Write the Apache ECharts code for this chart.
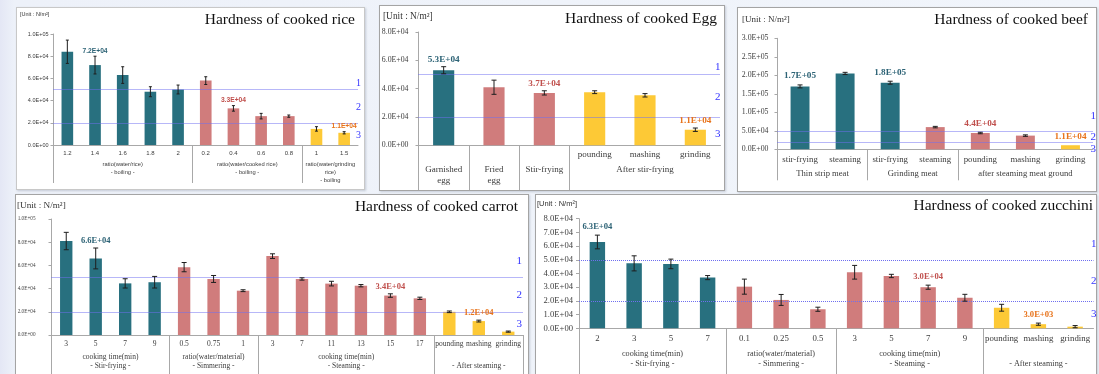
<!DOCTYPE html>
<html>
<head>
<meta charset="utf-8">
<script src="https://cdn.jsdelivr.net/npm/echarts@6/dist/echarts.min.js"></script>
<style>
  html, body { margin: 0; padding: 0; }
  body {
    width: 1099px; height: 374px; overflow: hidden; position: relative;
    background: linear-gradient(90deg, #e4e7f5 0px, #edf1f9 14px, #f1f5fb 100%);
  }
  .frame { position: absolute; background: #fff; border: 1px solid #a4a4a4; box-sizing: border-box;
           box-shadow: 1px 1px 2px rgba(120,130,150,0.35); }
  #chart { position: absolute; left: 0; top: 0; width: 1099px; height: 374px; }
</style>
</head>
<body>
<div class="frame" style="left:16px;top:7px;width:349px;height:183px;border-color:#c8c8c8"></div>
<div class="frame" style="left:379px;top:5px;width:346px;height:186px"></div>
<div class="frame" style="left:737px;top:7px;width:360px;height:185px"></div>
<div class="frame" style="left:15px;top:194px;width:514px;height:190px"></div>
<div class="frame" style="left:535px;top:194px;width:562px;height:190px"></div>
<div id="chart"></div>
<script>
// ---------- hardness measurements (N/m²) ----------
const UNIT = '[Unit : N/m²]';
const refLines = [50000, 20000];          // grade boundaries 1|2 and 2|3
const refNames = ['1', '2', '3'];

// rice
const riceTitle = 'Hardness of cooked rice';
const riceCats = ['1.2', '1.4', '1.6', '1.8', '2', '0.2', '0.4', '0.6', '0.8', '1', '1.5'];
const riceVals = [84000, 72000, 63000, 48000, 50000, 58000, 33000, 26000, 26000, 14500, 11000];
const riceErrs = [10500, 8000, 7500, 4500, 4000, 3500, 2500, 2500, 1000, 2000, 1000];
const riceKinds = ['t', 't', 't', 't', 't', 'p', 'p', 'p', 'p', 'y', 'y'];
const riceGroups = ['ratio(water/rice)\n- boiling -', 'ratio(water/cooked rice)\n- boiling -', 'ratio(water/grinding\nrice)\n- boiling'];
const riceGroupSizes = [5, 4, 2];
const riceLabeled = [1, 6, 10];
const riceYTicks = [0, 20000, 40000, 60000, 80000, 100000];

// egg
const eggTitle = 'Hardness of cooked Egg';
const eggCats = ['', '', '', 'pounding', 'mashing', 'grinding'];
const eggVals = [53000, 41000, 37000, 37500, 35300, 11000];
const eggErrs = [2500, 5000, 1500, 1000, 1200, 1200];
const eggKinds = ['t', 'p', 'p', 'y', 'y', 'y'];
const eggGroups = ['Garnished\negg', 'Fried\negg', 'Stir-frying', 'After stir-frying'];
const eggGroupSizes = [1, 1, 1, 3];
const eggLabeled = [0, 2, 5];
const eggYTicks = [0, 20000, 40000, 60000, 80000];

// beef
const beefTitle = 'Hardness of cooked beef';
const beefCats = ['stir-frying', 'steaming', 'stir-frying', 'steaming', 'pounding', 'mashing', 'grinding'];
const beefVals = [170000, 205000, 180000, 60000, 44000, 37000, 11000];
const beefErrs = [4000, 3000, 4000, 2000, 2000, 2000, 0];
const beefKinds = ['t', 't', 't', 'p', 'p', 'p', 'y'];
const beefGroups = ['Thin strip meat', 'Grinding meat', 'after steaming meat ground'];
const beefGroupSizes = [2, 2, 3];
const beefLabeled = [0, 2, 4, 6];
const beefYTicks = [0, 50000, 100000, 150000, 200000, 250000, 300000];

// carrot
const carrotTitle = 'Hardness of cooked carrot';
const carrotCats = ['3', '5', '7', '9', '0.5', '0.75', '1', '3', '7', '11', '13', '15', '17', 'pounding', 'mashing', 'grinding'];
const carrotVals = [81000, 66000, 44500, 45500, 58500, 48300, 38200, 68000, 48300, 44300, 42500, 34000, 31600, 20000, 12000, 2900];
const carrotErrs = [7500, 9000, 4000, 5000, 4000, 3000, 800, 2000, 1000, 2000, 1000, 1500, 1000, 700, 800, 500];
const carrotKinds = ['t', 't', 't', 't', 'p', 'p', 'p', 'p', 'p', 'p', 'p', 'p', 'p', 'y', 'y', 'y'];
const carrotGroups = ['cooking time(min)\n- Stir-frying -', 'ratio(water/material)\n- Simmering -', 'cooking time(min)\n- Steaming -', '\n- After steaming -'];
const carrotGroupSizes = [4, 3, 6, 3];
const carrotLabeled = [1, 11, 14];
const carrotYTicks = [0, 20000, 40000, 60000, 80000, 100000];

// zucchini
const zucchiniTitle = 'Hardness of cooked zucchini';
const zucchiniCats = ['2', '3', '5', '7', '0.1', '0.25', '0.5', '3', '5', '7', '9', 'pounding', 'mashing', 'grinding'];
const zucchiniVals = [63000, 47400, 47000, 37000, 30400, 20700, 13900, 40900, 38200, 30000, 22300, 15000, 3000, 1200];
const zucchiniErrs = [5000, 5500, 3500, 1500, 5500, 4000, 1500, 5000, 1200, 1500, 2500, 2500, 800, 800];
const zucchiniKinds = ['t', 't', 't', 't', 'p', 'p', 'p', 'p', 'p', 'p', 'p', 'y', 'y', 'y'];
const zucchiniGroups = ['cooking time(min)\n- Stir-frying -', 'ratio(water/material)\n- Simmering -', 'cooking time(min)\n- Steaming -', '\n- After steaming -'];
const zucchiniGroupSizes = [4, 3, 4, 3];
const zucchiniLabeled = [0, 9, 12];
const zucchiniYTicks = [0, 10000, 20000, 30000, 40000, 50000, 60000, 70000, 80000];

// ---------- styling ----------
const SERIF = '"Liberation Serif", "Times New Roman", serif';
const SANS = '"Liberation Sans", Arial, sans-serif';
const BAR_COLORS = { t: '#28707f', p: '#d07c7c', y: '#fdc936' };
const VALUE_COLORS = { t: '#2c6275', p: '#c0504d', y: '#e8731a' };
const AXIS_COLOR = '#a8a8a8';
const TEXT_COLOR = '#3c3c3c';

// scientific notation like 7.2E+04
function sci(v) {
  if (v === 0) return '0.0E+00';
  let e = Math.floor(Math.log10(Math.abs(v)));
  let m = v / Math.pow(10, e);
  if (Math.round(m * 10) / 10 >= 10) { m /= 10; e += 1; }
  return m.toFixed(1) + 'E' + (e < 0 ? '-' : '+') + String(Math.abs(e)).padStart(2, '0');
}

const panels = [
  { title: riceTitle, cats: riceCats, vals: riceVals, errs: riceErrs, kinds: riceKinds,
    groups: riceGroups, sizes: riceGroupSizes, labeled: riceLabeled, yTicks: riceYTicks,
    L: { grid: [53.5, 34, 304.5, 111], yFont: SANS, ySize: 5.5, yMargin: 5,
         catFont: SANS, catSize: 6, catLH: 7, catMargin: 4.5,
         grpFont: SANS, grpSize: 5.8, grpLH: 7.7, grpMargin: 16, sepLen: 38, closeRight: false,
         titlePos: [744, 11], unitPos: [20, 11], unitFont: SANS, unitSize: 5.5,
         valFont: SANS, valSize: 6.7, valGap: 2, cap: 3, refSize: 10, dx: -3, d1: 1, d3: 8 } },
  { title: eggTitle, cats: eggCats, vals: eggVals, errs: eggErrs, kinds: eggKinds,
    groups: eggGroups, sizes: eggGroupSizes, labeled: eggLabeled, yTicks: eggYTicks,
    L: { grid: [418.5, 32, 302, 113.3], yFont: SERIF, ySize: 7.8, yMargin: 10,
         catFont: SERIF, catSize: 9, catLH: 10, catMargin: 4.7,
         grpFont: SERIF, grpSize: 9, grpLH: 11, grpMargin: 19, sepLen: 45, closeRight: false,
         titlePos: [382, 10], unitPos: [383, 12], unitFont: SERIF, unitSize: 9.4,
         valFont: SERIF, valSize: 9.2, valGap: 3, cap: 5, refSize: 11, dx: 0, d1: 2, d3: 12 } },
  { title: beefTitle, cats: beefCats, vals: beefVals, errs: beefErrs, kinds: beefKinds,
    groups: beefGroups, sizes: beefGroupSizes, labeled: beefLabeled, yTicks: beefYTicks,
    L: { grid: [777.5, 38.3, 315.5, 111], yFont: SERIF, ySize: 7.8, yMargin: 9,
         catFont: SERIF, catSize: 8.8, catLH: 10, catMargin: 5.7,
         grpFont: SERIF, grpSize: 8.6, grpLH: 10, grpMargin: 19.7, sepLen: 31, closeRight: false,
         titlePos: [11, 11], unitPos: [742, 15], unitFont: SERIF, unitSize: 9,
         valFont: SERIF, valSize: 9.2, valGap: 4.5, cap: 5, refSize: 11, dx: -3, d1: 9, d3: 2 } },
  { title: carrotTitle, cats: carrotCats, vals: carrotVals, errs: carrotErrs, kinds: carrotKinds,
    groups: carrotGroups, sizes: carrotGroupSizes, labeled: carrotLabeled, yTicks: carrotYTicks,
    L: { grid: [51.5, 219, 471.5, 116], yFont: SERIF, ySize: 5.2, yMargin: 16,
         catFont: SERIF, catSize: 7.5, catLH: 9, catMargin: 4.5,
         grpFont: SERIF, grpSize: 7.5, grpLH: 9, grpMargin: 17.2, sepLen: 42, closeRight: true,
         titlePos: [581, 198], unitPos: [17, 201], unitFont: SERIF, unitSize: 9.2,
         valFont: SERIF, valSize: 8.5, valGap: 3, cap: 5, refSize: 11, dx: 1, d1: 10, d3: 7 } },
  { title: zucchiniTitle, cats: zucchiniCats, vals: zucchiniVals, errs: zucchiniErrs, kinds: zucchiniKinds,
    groups: zucchiniGroups, sizes: zucchiniGroupSizes, labeled: zucchiniLabeled, yTicks: zucchiniYTicks,
    L: { grid: [579, 218.7, 514.5, 109.6], yFont: SERIF, ySize: 8.6, yMargin: 6,
         catFont: SERIF, catSize: 8.8, catLH: 10, catMargin: 5,
         grpFont: SERIF, grpSize: 8.2, grpLH: 9.7, grpMargin: 21, sepLen: 46, closeRight: false,
         titlePos: [6, 197], unitPos: [537, 200], unitFont: SANS, unitSize: 7.5,
         valFont: SERIF, valSize: 8.6, valGap: 3.5, cap: 5, refSize: 11, dx: -3, d1: 10, d3: 8 } }
];

function addPanel(opt, P) {
  const L = P.L;
  const g = opt.grid.length;
  const n = P.cats.length;
  opt.grid.push({ left: L.grid[0], top: L.grid[1], width: L.grid[2], height: L.grid[3] });

  // group boundaries (separator ticks) and group centres (group labels)
  const bounds = [-0.5], centers = [];
  let acc = -0.5;
  P.sizes.forEach(s => { centers.push(acc + s / 2); acc += s; bounds.push(acc); });
  if (!L.closeRight) bounds.pop();

  const xi = opt.xAxis.length;
  opt.xAxis.push({
    type: 'category', gridIndex: g, data: P.cats, boundaryGap: true,
    axisLine: { show: true, onZero: false, lineStyle: { color: AXIS_COLOR, width: 1 } },
    axisTick: { show: false },
    axisLabel: { interval: 0, margin: L.catMargin, fontFamily: L.catFont, fontSize: L.catSize,
                 lineHeight: L.catLH, color: TEXT_COLOR }
  });
  opt.xAxis.push({
    type: 'value', gridIndex: g, min: -0.5, max: n - 0.5, position: 'bottom',
    axisLine: { show: false, onZero: false }, splitLine: { show: false },
    axisTick: { show: true, customValues: bounds, length: L.sepLen, lineStyle: { color: AXIS_COLOR } },
    axisLabel: {
      customValues: centers, margin: L.grpMargin, fontFamily: L.grpFont, fontSize: L.grpSize,
      lineHeight: L.grpLH, color: TEXT_COLOR, align: 'center',
      formatter: v => { const k = centers.findIndex(c => Math.abs(c - v) < 1e-6); return k < 0 ? '' : P.groups[k]; }
    }
  });

  const yi = opt.yAxis.length;
  const yt = P.yTicks;
  opt.yAxis.push({
    type: 'value', gridIndex: g, min: yt[0], max: yt[yt.length - 1], interval: yt[1] - yt[0],
    axisLine: { show: true, onZero: false, lineStyle: { color: AXIS_COLOR } },
    axisTick: { show: true, length: 3, lineStyle: { color: AXIS_COLOR } },
    splitLine: { show: false },
    axisLabel: { margin: L.yMargin, fontFamily: L.yFont, fontSize: L.ySize, color: TEXT_COLOR,
                 formatter: v => sci(v) }
  });

  const refLabel = { color: '#3434ff', fontFamily: SERIF, fontSize: L.refSize };
  opt.series.push({
    type: 'bar', xAxisIndex: xi, yAxisIndex: yi, barWidth: '42%',
    data: P.vals.map((v, i) => ({ value: v, itemStyle: { color: BAR_COLORS[P.kinds[i]] } })),
    markLine: {
      silent: true, symbol: 'none', animation: false,
      lineStyle: { color: '#6f6ff0', type: 'dotted', width: 1 },
      data: [
        { yAxis: refLines[0],
          label: Object.assign({ formatter: refNames[0], position: 'insideEndTop', distance: [L.dx, L.d1] }, refLabel) },
        { yAxis: (refLines[0] + refLines[1]) / 2, lineStyle: { color: 'rgba(0,0,0,0)' },
          label: Object.assign({ formatter: refNames[1], position: 'insideEndTop', distance: [L.dx, -L.refSize / 2 - 1] }, refLabel) },
        { yAxis: refLines[1],
          label: Object.assign({ formatter: refNames[2], position: 'insideEndBottom', distance: [L.dx, L.d3] }, refLabel) }
      ]
    }
  });

  // error bars plus the value captions placed above them
  opt.series.push({
    type: 'custom', xAxisIndex: xi, yAxisIndex: yi, z: 5,
    data: P.vals.map((v, i) => [i, v]),
    encode: { x: 0, y: 1 },
    renderItem: (params, api) => {
      const i = params.dataIndex;
      const v = P.vals[i], e = P.errs[i];
      const top = api.coord([i, v + e]);
      const bot = api.coord([i, v - e]);
      const hw = L.cap / 2;
      const kids = [];
      if (e > 0) {
        const st = { stroke: '#1e1e1e', lineWidth: 1 };
        kids.push({ type: 'line', shape: { x1: top[0], y1: top[1], x2: bot[0], y2: bot[1] }, style: st });
        kids.push({ type: 'line', shape: { x1: top[0] - hw, y1: top[1], x2: top[0] + hw, y2: top[1] }, style: st });
        kids.push({ type: 'line', shape: { x1: bot[0] - hw, y1: bot[1], x2: bot[0] + hw, y2: bot[1] }, style: st });
      }
      if (P.labeled.indexOf(i) >= 0) {
        kids.push({ type: 'text', style: {
          x: top[0], y: top[1] - L.valGap, text: sci(v),
          fill: VALUE_COLORS[P.kinds[i]],
          fontFamily: L.valFont, fontSize: L.valSize, fontWeight: 'bold',
          align: 'center', verticalAlign: 'bottom' } });
      }
      return { type: 'group', children: kids };
    }
  });

  opt.title.push({ text: P.title, right: L.titlePos[0], top: L.titlePos[1], padding: 0,
    textStyle: { fontFamily: SERIF, fontSize: 15.5, fontWeight: 'normal', color: '#111', lineHeight: 18 } });
  opt.title.push({ text: UNIT, left: L.unitPos[0], top: L.unitPos[1], padding: 0,
    textStyle: { fontFamily: L.unitFont, fontSize: L.unitSize, fontWeight: 'normal', color: '#333' } });
}

const option = { animation: false, title: [], grid: [], xAxis: [], yAxis: [], series: [] };
panels.forEach(p => addPanel(option, p));

const chart = echarts.init(document.getElementById('chart'), null, { renderer: 'canvas' });
chart.setOption(option);
</script>
</body>
</html>
